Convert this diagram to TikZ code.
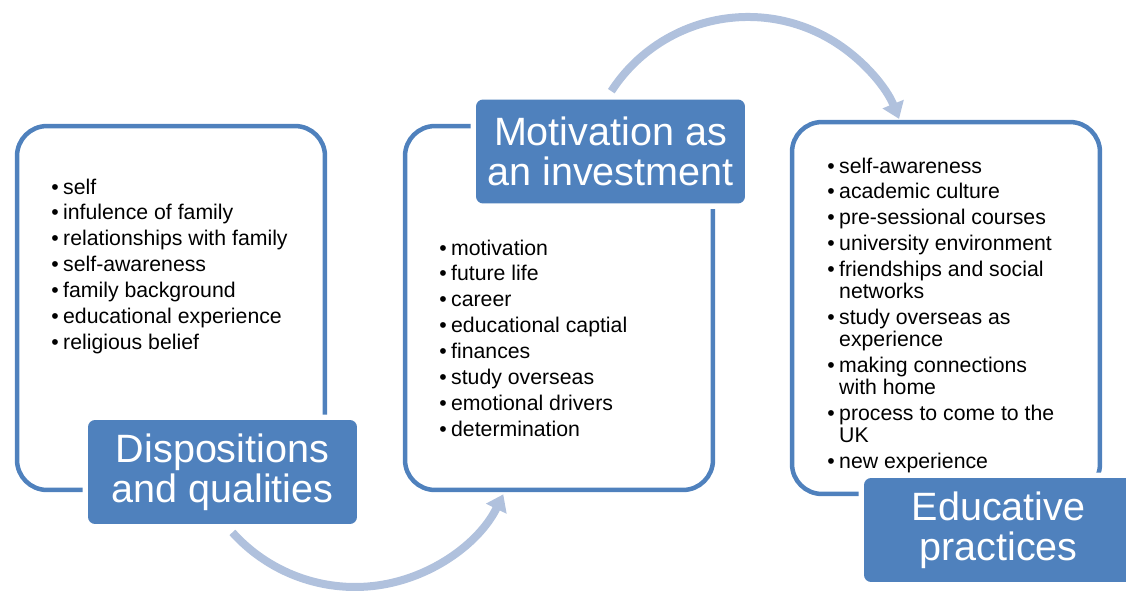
\documentclass[tikz,border=0pt]{standalone}
\usepackage{fontspec}
\setmainfont{Liberation Sans}
\usetikzlibrary{arrows.meta}
\definecolor{boxblue}{RGB}{79,129,189}
\definecolor{arrowblue}{RGB}{176,193,221}
\newcommand{\itemfont}{\fontsize{12.1}{12.5}\selectfont}
\newcommand{\titlefont}{\fontsize{22.5}{22.7}\selectfont}

\begin{document}
\begin{tikzpicture}[x=0.02cm, y=0.02cm,
  outlinebox/.style={draw=boxblue, line width=0.09cm, rounded corners=0.6cm,
    minimum width=6.16cm, minimum height=7.28cm, inner sep=0},
  titlebox/.style={fill=boxblue, text=white, rounded corners=0.14cm,
    minimum width=5.38cm, minimum height=2.08cm, inner sep=0, align=center,
    font=\titlefont, preaction={draw=white, line width=0.22cm}},
  itemlist/.style={anchor=base west, inner sep=0, font=\itemfont},
  cyclearrow/.style={draw=arrowblue, line width=0.16cm,
    -{Triangle[width=0.44cm, length=0.32cm]}}]
	\useasboundingbox (0,0) rectangle (1126,-592);
	\clip (0,0) rectangle (1126,-592);

	\coordinate (disp2mot) at (232.4,-532.4);
	\coordinate (mot2edu) at (611.3,-91.2);
	\draw[cyclearrow] (disp2mot) arc[start angle=222, end angle=334, radius=3.3cm];
	\draw[cyclearrow] (mot2edu) arc[start angle=147, end angle=22, radius=3.26cm];

	\node[outlinebox] (dispbox) at (171,-308) {};
	\node[outlinebox] (motbox) at (559,-308) {};
	\node[outlinebox, minimum height=7.44cm] (edubox) at (946,-308) {};

	\node[titlebox] (disptitle) at (222.5,-472) {Dispositions\\and qualities};
	\node[titlebox] (mottitle) at (610.5,-151.5) {Motivation as\\an investment};
	\node[titlebox] (edutitle) at (998.5,-530) {Educative\\practices};

	\node[itemlist] (displist) at (51,-194) {\begin{tabular}[t]{@{}l@{\hspace{2.5pt}}l@{}}
		\textbullet & self\\[2.27pt]
		\textbullet & infulence of family\\[2.27pt]
		\textbullet & relationships with family\\[2.27pt]
		\textbullet & self-awareness\\[2.27pt]
		\textbullet & family background\\[2.27pt]
		\textbullet & educational experience\\[2.27pt]
		\textbullet & religious belief
	\end{tabular}};
	\node[itemlist] (motlist) at (439,-255) {\begin{tabular}[t]{@{}l@{\hspace{2.5pt}}l@{}}
		\textbullet & motivation\\[2.27pt]
		\textbullet & future life\\[2.27pt]
		\textbullet & career\\[2.27pt]
		\textbullet & educational captial\\[2.27pt]
		\textbullet & finances\\[2.27pt]
		\textbullet & study overseas\\[2.27pt]
		\textbullet & emotional drivers\\[2.27pt]
		\textbullet & determination
	\end{tabular}};
	\node[itemlist] (edulist) at (827,-173) {\begin{tabular}[t]{@{}l@{\hspace{2.5pt}}l@{}}
		\textbullet & self-awareness\\[2.27pt]
		\textbullet & academic culture\\[2.27pt]
		\textbullet & pre-sessional courses\\[2.27pt]
		\textbullet & university environment\\[2.27pt]
		\textbullet & friendships and social\\
		            & networks\\[2.27pt]
		\textbullet & study overseas as\\
		            & experience\\[2.27pt]
		\textbullet & making connections\\
		            & with home\\[2.27pt]
		\textbullet & process to come to the\\
		            & UK\\[2.27pt]
		\textbullet & new experience
	\end{tabular}};
\end{tikzpicture}
\end{document}
